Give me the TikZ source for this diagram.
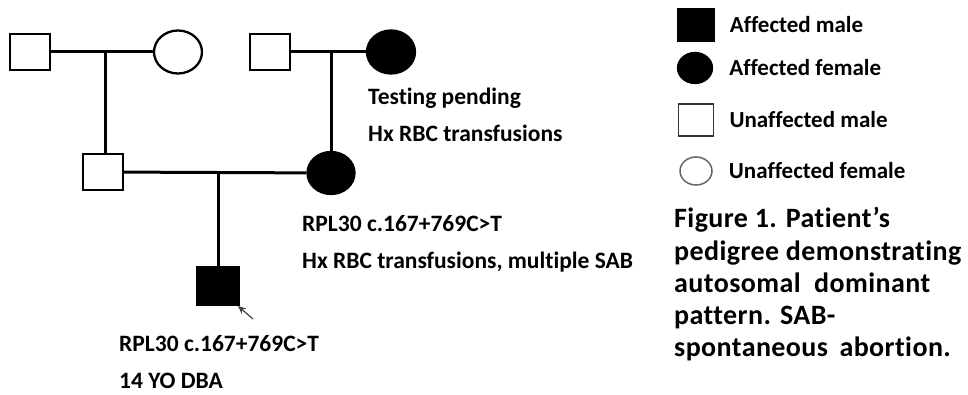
\documentclass[tikz,border=0pt]{standalone}
\usepackage{fontspec}
\setmainfont{Carlito}[Ligatures=NoCommon]
\usetikzlibrary{positioning,shapes.geometric,arrows.meta}
\begin{document}
\begin{tikzpicture}[x=1pt,y=-1pt,
    male/.style={draw,rectangle,line width=2.3pt,minimum width=40pt,minimum height=36pt,inner sep=0pt},
    female/.style={draw,ellipse,line width=2.3pt,minimum width=48pt,minimum height=43pt,inner sep=0pt},
    affected/.style={fill=black},
    link/.style={line width=3pt},
    lbl/.style={inner sep=0pt,anchor=base west,font=\bfseries\fontsize{23.5}{23.5}\selectfont},
    keytext/.style={inner sep=0pt,font=\bfseries\fontsize{23}{23}\selectfont},
    capt/.style={inner sep=0pt,anchor=base west,font=\bfseries\fontsize{28}{28}\selectfont\addfontfeatures{LetterSpace=1.5}}]
    \useasboundingbox (0,0) rectangle (968,395);
    % generation I
    \node[male] (gpa1) at (30,52) {};
    \node[female] (gma1) at (178,52) {};
    \node[male] (gpa2) at (270,52) {};
    \node[female,affected] (gma2) at (391,52) {};
    % generation II
    \node[male] (dad) at (103,172) {};
    \node[female,affected,minimum width=47pt,minimum height=42pt] (mom) at (331,173) {};
    % proband
    \node[male,affected,minimum width=41pt,minimum height=37pt] (kid) at (218,286) {};
    \coordinate (m1) at (105,52);
    \coordinate (m2) at (331,52);
    \coordinate (m3) at (218,172);
    \draw[link] (gpa1) -- (gma1);
    \draw[link] (gpa2) -- (gma2);
    \draw[link] (dad) -- (mom);
    \draw[link] (m1) -- (m1 |- dad.north);
    \draw[link] (m2) -- (mom.north);
    \draw[link] (m3) -- (kid.north);
    % proband arrow
    \coordinate (ptr) at (253,319);
    \coordinate (ptrtip) at (238,306);
    \draw[-{Stealth[length=8pt,width=7pt]},black!75,line width=1.2pt] (ptr) -- (ptrtip);
    % notes
    \node[lbl] (n1) at (368,105) {Testing pending};
    \node[lbl] (n2) at (368,142) {Hx RBC transfusions};
    \node[lbl] (n3) at (302,232) {RPL30 c.167+769C>T};
    \node[lbl] (n4) at (302,268) {Hx RBC transfusions, multiple SAB};
    \node[lbl] (n5) at (119,351) {RPL30 c.167+769C>T};
    \node[lbl] (n6) at (119,388) {14 YO DBA};
    % legend
    \node[male,affected,minimum width=35pt,minimum height=32pt] (key1) at (696,25) {};
    \node[female,affected,minimum width=34pt,minimum height=30pt] (key2) at (695,68) {};
    \node[male,draw=black!80,line width=1.8pt,minimum width=35pt,minimum height=32pt] (key3) at (696,120) {};
    \node[female,draw=black!60,line width=1.5pt,minimum width=32pt,minimum height=28pt] (key4) at (696,171) {};
    \node[keytext,right=15pt of key1] (k1) {Affected male};
    \node[keytext,right=16pt of key2] (k2) {Affected female};
    \node[keytext,right=15pt of key3] (k3) {Unaffected male};
    \node[keytext,right=16pt of key4] (k4) {Unaffected female};
    % caption
    \foreach \t [count=\i] in {Figure 1. Patient’s, pedigree demonstrating, autosomal\ \ dominant, pattern. SAB-, spontaneous\ \,abortion.}
        \node[capt] (cap\i) at (674,196+32*\i) {\t};
\end{tikzpicture}
\end{document}
